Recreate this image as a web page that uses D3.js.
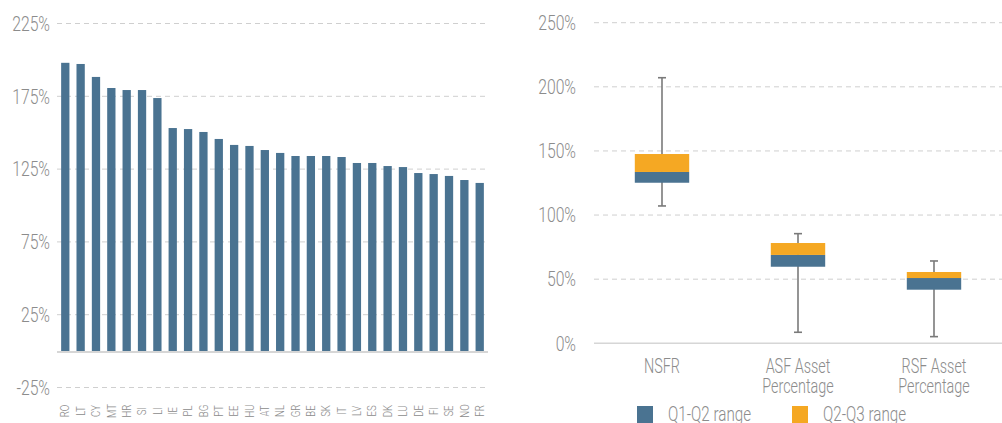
<!DOCTYPE html>
<html>
<head>
<meta charset="utf-8">
<script src="https://cdn.jsdelivr.net/npm/d3@7"></script>
<style>
  html, body { margin: 0; padding: 0; background: #fff; }
  svg { display: block; }
  text { font-family: Roboto, "Liberation Sans", sans-serif; font-weight: 300; fill: #8c8c8c; }
</style>
</head>
<body>
<svg id="chart" width="1002" height="423"></svg>
<script>
// ---- Left chart data ----
const countries = ["RO","LT","CY","MT","HR","SI","LI","IE","PL","BG","PT","EE","HU","AT","NL","GR","BE","SK","IT","LV","ES","DK","LU","DE","FI","SE","NO","FR"];
const countryValues = [198, 197.2, 188.3, 180.7, 179.3, 179.3, 173.8, 153.2, 152.5, 150.5, 145.7, 141.6, 140.9, 138.1, 136.1, 134, 134, 134, 133.3, 129.2, 129.2, 127.1, 126.4, 122.3, 121.6, 120.3, 117.5, 115.5];
const leftTicks = [-25, 25, 75, 125, 175, 225];

// ---- Right chart data ----
const boxCategories = [["NSFR"], ["ASF Asset", "Percentage"], ["RSF Asset", "Percentage"]];
const boxMin    = [107.1, 8.6, 5.2];
const boxQ1     = [125.2, 59.7, 41.8];
const boxMedian = [133.6, 68.9, 50.9];
const boxQ3     = [147.6, 78.2, 55.6];
const boxMax    = [207.1, 85.5, 64.2];
const rightTicks = [0, 50, 100, 150, 200, 250];
const legendLabels = ["Q1-Q2 range", "Q2-Q3 range"];

const BLUE = "#4a7391";
const ORANGE = "#f5a823";
const GRID = "#cfcfcf";
const TEXT = "#8c8c8c";

const svg = d3.select("#chart");

// ===== Left chart =====
{
  const x = d3.scaleBand().domain(countries).range([57, 488]).paddingInner(0.46).paddingOuter(0.27);
  const y = d3.scaleLinear().domain([-25, 225]).range([387.5, 23.5]);
  const g = svg.append("g");

  g.selectAll(".grid").data(leftTicks).join("line")
    .attr("x1", 57).attr("x2", 488)
    .attr("y1", d => y(d)).attr("y2", d => y(d))
    .attr("stroke", GRID).attr("stroke-width", 1).attr("stroke-dasharray", "5,4");

  const yAxis = d3.axisLeft(y).tickValues(leftTicks).tickFormat(d => d + "%").tickSize(0).tickPadding(0);
  const ya = g.append("g").attr("transform", "translate(50,0)").call(yAxis);
  ya.select(".domain").remove();
  ya.selectAll("text").attr("font-size", 21).attr("fill", TEXT)
    .attr("font-family", null).attr("transform", "scale(0.75,1)");
  ya.attr("font-family", null);

  g.selectAll(".bar").data(countries).join("rect")
    .attr("x", d => x(d))
    .attr("width", x.bandwidth())
    .attr("y", (d, i) => y(countryValues[i]))
    .attr("height", (d, i) => y(0) - y(countryValues[i]))
    .attr("fill", BLUE);

  g.append("line").attr("x1", 57).attr("x2", 488).attr("y1", y(0) + 1).attr("y2", y(0) + 1)
    .attr("stroke", "#d6d6d6").attr("stroke-width", 2);

  const xAxis = d3.axisBottom(x).tickSize(0).tickPadding(0);
  const xa = g.append("g").attr("transform", "translate(0,411)").call(xAxis);
  xa.select(".domain").remove();
  xa.attr("font-family", null);
  xa.selectAll("text")
    .attr("font-size", 12).attr("fill", TEXT)
    .attr("text-anchor", "middle").attr("dy", "0.35em").attr("y", 0)
    .attr("transform", "rotate(-90) scale(0.8,1)");
}

// ===== Right chart =====
{
  const idx = d3.range(boxCategories.length);
  const x = d3.scaleBand().domain(idx).range([594, 1002]).paddingInner(0.6).paddingOuter(0.3);
  const y = d3.scaleLinear().domain([0, 250]).range([343.3, 22.7]);
  const g = svg.append("g");

  g.selectAll(".grid").data(rightTicks.filter(d => d > 0)).join("line")
    .attr("x1", 594).attr("x2", 1002)
    .attr("y1", d => y(d)).attr("y2", d => y(d))
    .attr("stroke", GRID).attr("stroke-width", 1).attr("stroke-dasharray", "5,4");

  g.append("line").attr("x1", 594).attr("x2", 1002).attr("y1", y(0)).attr("y2", y(0))
    .attr("stroke", "#d6d6d6").attr("stroke-width", 1.5);

  const yAxis = d3.axisLeft(y).tickValues(rightTicks).tickFormat(d => d + "%").tickSize(0).tickPadding(0);
  const ya = g.append("g").attr("transform", "translate(576,0)").call(yAxis);
  ya.select(".domain").remove();
  ya.attr("font-family", null);
  ya.selectAll("text").attr("font-size", 21).attr("fill", TEXT).attr("transform", "scale(0.75,1)");

  const cx = i => x(i) + x.bandwidth() / 2;
  // whiskers
  g.selectAll(".whisker").data(idx).join("line")
    .attr("x1", cx).attr("x2", cx)
    .attr("y1", i => y(boxMax[i])).attr("y2", i => y(boxMin[i]))
    .attr("stroke", "#7a7a7a").attr("stroke-width", 1.6);
  g.selectAll(".capTop").data(idx).join("line")
    .attr("x1", i => cx(i) - 4).attr("x2", i => cx(i) + 4)
    .attr("y1", i => y(boxMax[i])).attr("y2", i => y(boxMax[i]))
    .attr("stroke", "#7a7a7a").attr("stroke-width", 1.6);
  g.selectAll(".capBot").data(idx).join("line")
    .attr("x1", i => cx(i) - 4).attr("x2", i => cx(i) + 4)
    .attr("y1", i => y(boxMin[i])).attr("y2", i => y(boxMin[i]))
    .attr("stroke", "#7a7a7a").attr("stroke-width", 1.6);
  // Q1-Q2
  g.selectAll(".lower").data(idx).join("rect")
    .attr("x", i => x(i)).attr("width", x.bandwidth())
    .attr("y", i => y(boxMedian[i])).attr("height", i => y(boxQ1[i]) - y(boxMedian[i]))
    .attr("fill", BLUE);
  // Q2-Q3
  g.selectAll(".upper").data(idx).join("rect")
    .attr("x", i => x(i)).attr("width", x.bandwidth())
    .attr("y", i => y(boxQ3[i])).attr("height", i => y(boxMedian[i]) - y(boxQ3[i]))
    .attr("fill", ORANGE);

  // category labels
  const cat = g.selectAll(".cat").data(idx).join("g")
    .attr("transform", i => `translate(${cx(i)},373) scale(0.72,1)`);
  const labels = cat.append("text")
    .attr("text-anchor", "middle").attr("font-size", 20).attr("fill", TEXT);
  labels.each(function(i) {
    const t = d3.select(this);
    boxCategories[i].forEach((line, k) => {
      t.append("tspan").attr("x", 0).attr("y", k * 20).text(line);
    });
  });

  // legend
  const legendX = [637, 792];
  const legendColors = [BLUE, ORANGE];
  const lg = g.selectAll(".leg").data(legendLabels).join("g")
    .attr("transform", (d, i) => `translate(${legendX[i]},406)`);
  lg.append("rect").attr("width", 16).attr("height", 17).attr("fill", (d, i) => legendColors[i]);
  lg.append("text").attr("transform", "translate(31,15) scale(0.76,1)")
    .attr("font-size", 20).attr("fill", TEXT).text(d => d);
}
</script>
</body>
</html>
